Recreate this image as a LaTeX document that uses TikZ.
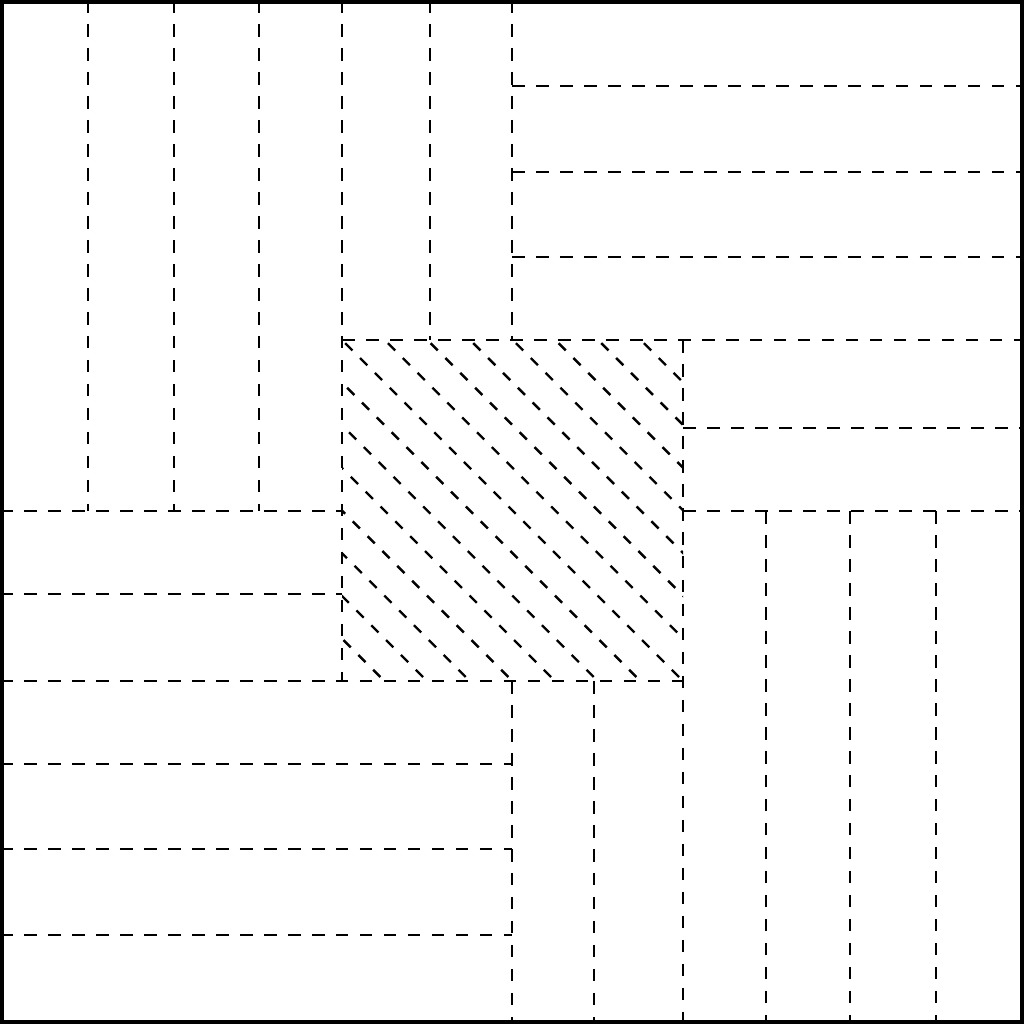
\documentclass[tikz,border=0pt]{standalone}
\begin{document}
\begin{tikzpicture}[
  dl/.style={line width=0.8pt, dash pattern=on 4.2pt off 3.8pt},
  hl/.style={line width=0.8pt, dash pattern=on 3.4pt off 3.6pt},
  frame/.style={line width=1.2pt}
]
\useasboundingbox (0,0) rectangle (12,12);
% column positions
\def\xa{1.031}\def\xb{2.039}\def\xc{3.035}\def\xd{4.008}\def\xe{5.039}\def\xf{6.0}
\def\xg{6.961}\def\xh{8.004}\def\xi{8.977}\def\xj{9.961}\def\xk{10.969}
% row positions (tikz y)
\def\ya{10.992}\def\yb{9.984}\def\yc{8.988}\def\yd{8.016}\def\ye{6.984}\def\yf{6.012}
\def\yg{5.039}\def\yh{4.020}\def\yi{3.047}\def\yj{2.051}\def\yk{1.043}
% top-left verticals
\foreach \x in {\xa,\xb,\xc} \draw[dl] (\x,12) -- (\x,\yf);
\draw[dl] (\xd,12) -- (\xd,\yh);
\foreach \x in {\xe,\xf} \draw[dl] (\x,12) -- (\x,\yd);
% top-right horizontals
\foreach \y in {\ya,\yb,\yc} \draw[dl] (\xf,\y) -- (12,\y);
\draw[dl] (\xd,\yd) -- (12,\yd);
\foreach \y in {\ye,\yf} \draw[dl] (\xh,\y) -- (12,\y);
% bottom-right verticals
\draw[dl] (\xh,\yd) -- (\xh,0);
\foreach \x in {\xi,\xj,\xk} \draw[dl] (\x,\yf) -- (\x,0);
\foreach \x in {\xf,\xg} \draw[dl] (\x,\yh) -- (\x,0);
% bottom-left horizontals
\foreach \y in {\yf,\yg} \draw[dl] (0,\y) -- (\xd,\y);
\draw[dl] (0,\yh) -- (\xh,\yh);
\foreach \y in {\yi,\yj,\yk} \draw[dl] (0,\y) -- (\xf,\y);
% hatching in centre square
\begin{scope}
\clip (\xd,\yh) rectangle (\xh,\yd);
\foreach \k in {-7,...,7} {
  \pgfmathsetmacro{\c}{\xd+\yd+0.5*\k}
  \draw[hl] ({\c-8.5},8.5) -- (8.5,{\c-8.5});
}
\end{scope}
% frame
\draw[frame] (0.021,0.021) rectangle (11.979,11.979);
\end{tikzpicture}
\end{document}
